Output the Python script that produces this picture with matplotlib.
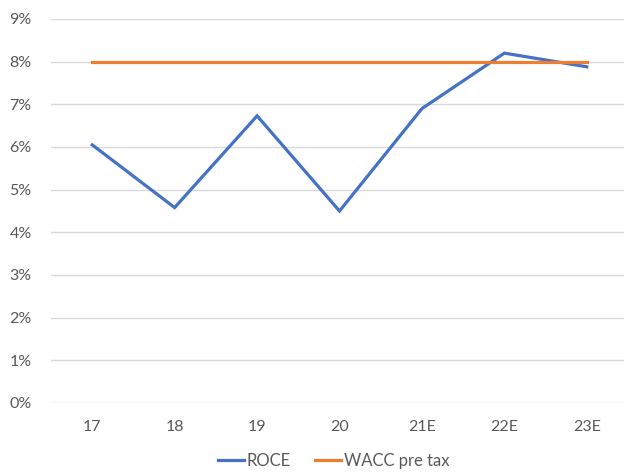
import matplotlib as mpl
mpl.use('Agg')
import matplotlib.pyplot as plt
import numpy as np

# data
years = ['17', '18', '19', '20', '21E', '22E', '23E']
roce = [6.05, 4.58, 6.73, 4.50, 6.90, 8.20, 7.88]
wacc = [8.0, 8.0, 8.0, 8.0, 8.0, 8.0, 8.0]

plt.rcParams['font.family'] = ['Lato', 'DejaVu Sans']

fig = plt.figure(figsize=(6.24, 4.72), dpi=100)
ax = fig.add_axes([51 / 624, (472 - 403) / 472, 577 / 624, 384 / 472])

x = np.arange(len(years))
ax.plot(x, roce, color='#4472C4', lw=2.3, label='ROCE', solid_joinstyle='miter')
ax.plot(x, wacc, color='#ED7D31', lw=2.3, label='WACC pre tax')

ax.set_xlim(-0.5, len(years) - 0.5)
ax.set_ylim(0, 9)
ax.set_yticks(range(0, 10))
ax.set_yticklabels(['%d%%' % v for v in range(0, 10)])
ax.set_xticks(x)
ax.set_xticklabels(years)
ax.grid(axis='y', color='#D9D9D9', lw=1)
ax.set_axisbelow(True)
for s in ax.spines.values():
    s.set_visible(False)
ax.tick_params(length=0, colors='#595959', labelsize=11.5)
ax.tick_params(axis='y', pad=14)
ax.tick_params(axis='x', pad=12)

ax.legend(loc='upper center', bbox_to_anchor=(0.5 - 6 / 577, -0.09), ncol=2, frameon=False,
          fontsize=12, labelcolor='#595959', handlelength=1.6, handletextpad=0.15,
          columnspacing=1.4)

plt.savefig('out.png')
